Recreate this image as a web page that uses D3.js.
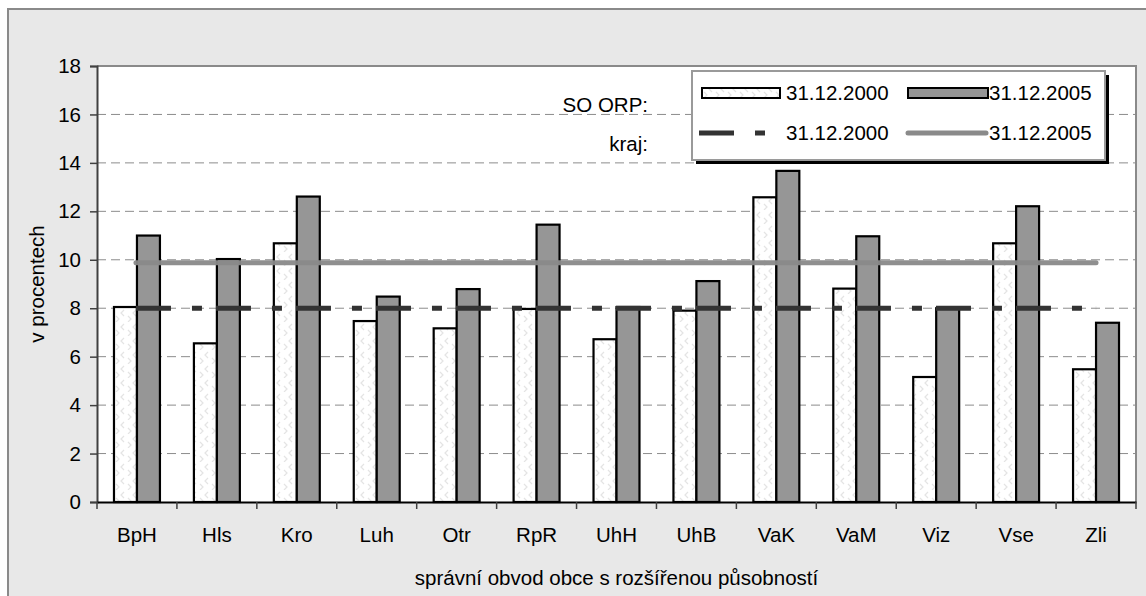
<!DOCTYPE html>
<html><head><meta charset="utf-8">
<script src="https://cdn.jsdelivr.net/npm/d3@7"></script>
<style>
html,body{margin:0;padding:0;background:#ffffff;}
svg{display:block;font-family:"Liberation Sans",Arial,sans-serif;}
</style></head>
<body>
<svg id="chart" width="1146" height="596"></svg>
<script>
const categories = ["BpH","Hls","Kro","Luh","Otr","RpR","UhH","UhB","VaK","VaM","Viz","Vse","Zli"];
const values2000 = [8.05,6.55,10.68,7.47,7.17,7.97,6.72,7.90,12.58,8.81,5.16,10.68,5.48];
const values2005 = [11.0,10.03,12.61,8.48,8.79,11.45,8.05,9.12,13.67,10.97,8.0,12.21,7.40];
const seriesNames = ["31.12.2000","31.12.2005"];
const krajValues = [8.0, 9.88];
const yTicks = [0,2,4,6,8,10,12,14,16,18];
const yTitle = "v procentech";
const xTitle = "správní obvod obce s rozšířenou působností";

const FS = 20.5;
const svg = d3.select("#chart");
const W = 1146, H = 596;
const m = {left:97, right:1136, top:66, bottom:502};

// outer background & frame
svg.append("rect").attr("x",0).attr("y",0).attr("width",W).attr("height",H).attr("fill","#ffffff");
svg.append("rect").attr("x",8).attr("y",9).attr("width",W+20).attr("height",H+20)
  .attr("fill","#e8e8e8").attr("stroke","#8a8a8a").attr("stroke-width",2);

const defs = svg.append("defs");
const pat = defs.append("pattern").attr("id","chev").attr("patternUnits","userSpaceOnUse")
  .attr("width",12).attr("height",14);
pat.append("rect").attr("width",12).attr("height",14).attr("fill","#ffffff");
pat.append("path").attr("d","M4,2 L1,5 L4,8").attr("fill","none").attr("stroke","#e4e4e4").attr("stroke-width",1.2);
pat.append("path").attr("d","M8,8 L11,11 L8,14").attr("fill","none").attr("stroke","#e4e4e4").attr("stroke-width",1.2);

const x = d3.scaleBand().domain(categories).range([m.left,m.right]).paddingInner(0.425).paddingOuter(0.2125);
const xs = d3.scaleBand().domain(seriesNames).range([0,x.bandwidth()]);
const y = d3.scaleLinear().domain([0,18]).range([m.bottom,m.top]);

// plot area
svg.append("rect").attr("x",m.left).attr("y",m.top).attr("width",m.right-m.left).attr("height",m.bottom-m.top)
  .attr("fill","#ffffff");

// gridlines
svg.append("g").selectAll("line").data(yTicks.filter(d=>d>0 && d<18)).join("line")
  .attr("x1",m.left).attr("x2",m.right).attr("y1",d=>y(d)).attr("y2",d=>y(d))
  .attr("stroke","#8c8c8c").attr("stroke-width",1).attr("stroke-dasharray","9,5");

// plot border top/right
svg.append("path").attr("d",`M${m.left},${m.top}H${m.right}V${m.bottom}`)
  .attr("fill","none").attr("stroke","#8a8a8a").attr("stroke-width",2);

// bars
const g = svg.append("g");
categories.forEach((c,i)=>{
  [values2000[i], values2005[i]].forEach((v,j)=>{
    g.append("rect")
      .attr("x", x(c)+xs(seriesNames[j]))
      .attr("y", y(v))
      .attr("width", xs.bandwidth())
      .attr("height", y(0)-y(v))
      .attr("fill", j===0 ? "url(#chev)" : "#969696")
      .attr("stroke","#000").attr("stroke-width",2.2);
  });
});

// kraj lines
const cx = c => x(c)+x.bandwidth()/2;
const first = categories[0], last = categories[categories.length-1];
svg.append("line").attr("x1",cx(first)-1).attr("x2",cx(last)).attr("y1",y(krajValues[1])).attr("y2",y(krajValues[1]))
  .attr("stroke","#8a8a8a").attr("stroke-width",5).attr("stroke-linecap","round").attr("opacity",0.95);
svg.append("line").attr("x1",cx(first)-1).attr("x2",cx(last)).attr("y1",y(krajValues[0])).attr("y2",y(krajValues[0]))
  .attr("stroke","#333333").attr("stroke-width",5).attr("stroke-dasharray","35,21,10,14");

// axes
const yAxis = d3.axisLeft(y).tickValues(yTicks).tickSize(7).tickPadding(9).tickFormat(d3.format("d"));
const ya = svg.append("g").attr("transform",`translate(${m.left},0)`).call(yAxis);
ya.select(".domain").attr("stroke","#404040").attr("stroke-width",2);
ya.selectAll(".tick line").attr("stroke","#404040").attr("stroke-width",1.5);
ya.selectAll(".tick text").attr("font-size",FS).attr("fill","#000").attr("font-family","Liberation Sans, Arial, sans-serif");

const xAxis = d3.axisBottom(x).tickSize(0).tickPadding(25);
const xa = svg.append("g").attr("transform",`translate(0,${m.bottom})`).call(xAxis);
xa.select(".domain").attr("stroke","#000").attr("stroke-width",2);
xa.selectAll(".tick text").attr("font-size",FS).attr("fill","#000").attr("font-family","Liberation Sans, Arial, sans-serif");
// boundary ticks
const bounds = categories.map(c=>x(c)-x.step()*x.paddingInner()/2).concat([m.right]);
svg.append("g").selectAll("line").data(bounds).join("line")
  .attr("x1",d=>d).attr("x2",d=>d).attr("y1",m.bottom).attr("y2",m.bottom+7)
  .attr("stroke","#404040").attr("stroke-width",1.5);

// titles
svg.append("text").attr("x",(m.left+m.right)/2).attr("y",585).attr("text-anchor","middle")
  .attr("font-size",FS).text(xTitle);
svg.append("text").attr("transform",`translate(44,${(m.top+m.bottom)/2}) rotate(-90)`).attr("text-anchor","middle")
  .attr("font-size",FS).text(yTitle);

// legend
const L = {x:692, y:71, w:413, h:89};
svg.append("rect").attr("x",L.x+4).attr("y",L.y+4).attr("width",L.w).attr("height",L.h).attr("fill","#000");
svg.append("rect").attr("x",L.x).attr("y",L.y).attr("width",L.w).attr("height",L.h)
  .attr("fill","#fff").attr("stroke","#9a9a9a").attr("stroke-width",2);
const row1 = 93, row2 = 133;
svg.append("text").attr("x",648).attr("y",112).attr("text-anchor","end").attr("font-size",FS).text("SO ORP:");
svg.append("text").attr("x",648).attr("y",151).attr("text-anchor","end").attr("font-size",FS).text("kraj:");
// row 1 swatches
svg.append("rect").attr("x",702).attr("y",row1-5).attr("width",78).attr("height",10)
  .attr("fill","url(#chev)").attr("stroke","#000").attr("stroke-width",2);
svg.append("rect").attr("x",908).attr("y",row1-5).attr("width",80).attr("height",10)
  .attr("fill","#969696").attr("stroke","#000").attr("stroke-width",2);
svg.append("text").attr("x",786).attr("y",row1+7).attr("font-size",FS).text(seriesNames[0]);
svg.append("text").attr("x",989).attr("y",row1+7).attr("font-size",FS).text(seriesNames[1]);
// row 2 swatches
svg.append("line").attr("x1",699).attr("x2",766).attr("y1",row2).attr("y2",row2)
  .attr("stroke","#333").attr("stroke-width",5).attr("stroke-dasharray","35,21,10,14");
svg.append("line").attr("x1",908).attr("x2",986).attr("y1",row2).attr("y2",row2)
  .attr("stroke","#8a8a8a").attr("stroke-width",5).attr("stroke-linecap","round");
svg.append("text").attr("x",786).attr("y",row2+7).attr("font-size",FS).text(seriesNames[0]);
svg.append("text").attr("x",989).attr("y",row2+7).attr("font-size",FS).text(seriesNames[1]);
</script>
</body></html>
